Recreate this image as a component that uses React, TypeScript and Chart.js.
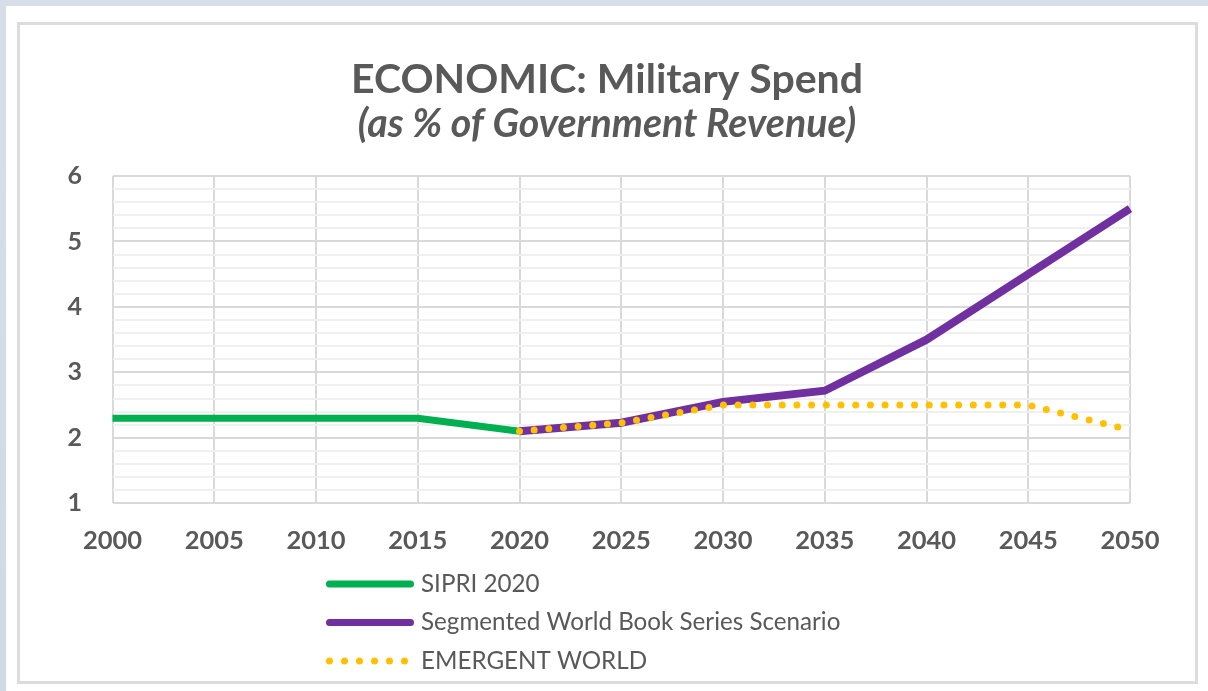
import React, { useEffect, useRef } from "react";
import { Chart, registerables } from "chart.js";

Chart.register(...registerables);

const years = ["2000", "2005", "2010", "2015", "2020", "2025", "2030", "2035", "2040", "2045", "2050"];
const sipri2020 = [2.3, 2.3, 2.3, 2.3, 2.1, null, null, null, null, null, null];
const segmentedWorld = [null, null, null, null, 2.1, 2.23, 2.55, 2.72, 3.5, 4.5, 5.5];
const emergentWorld = [null, null, null, null, 2.1, 2.23, 2.5, 2.5, 2.5, 2.5, 2.12];
const yMin = 1;
const yMax = 6;
const yStep = 0.2;

const TEXT = "#595959";
const FONT = "Lato, 'Open Sans', sans-serif";

const isMajor = (v: number) => Math.abs(v - Math.round(v)) < 1e-6;

const legendPlugin = {
  id: "stackedLegend",
  afterDraw(chart: any, _args: any, opts: any) {
    const ctx = chart.ctx as CanvasRenderingContext2D;
    ctx.save();
    chart.data.datasets.forEach((ds: any, i: number) => {
      const y = opts.top + i * opts.rowGap;
      ctx.beginPath();
      ctx.strokeStyle = ds.borderColor;
      ctx.lineWidth = opts.lineWidth;
      ctx.lineCap = "round";
      if (ds.borderDash && ds.borderDash.length) {
        ctx.setLineDash(opts.dotDash);
        ctx.moveTo(opts.left, y);
        ctx.lineTo(opts.left + opts.dotLength, y);
      } else {
        ctx.setLineDash([]);
        ctx.moveTo(opts.left, y);
        ctx.lineTo(opts.left + opts.lineLength, y);
      }
      ctx.stroke();
      ctx.setLineDash([]);
      ctx.fillStyle = opts.color;
      ctx.font = opts.font;
      ctx.textBaseline = "middle";
      ctx.textAlign = "left";
      ctx.fillText(ds.label, opts.textX, y);
    });
    ctx.restore();
  },
};

export default function App() {
  const ref = useRef<HTMLCanvasElement>(null);

  useEffect(() => {
    if (!ref.current) return;
    const chart = new Chart(ref.current, {
      type: "line",
      data: {
        labels: years,
        datasets: [
          {
            label: "SIPRI 2020",
            data: sipri2020,
            borderColor: "#00b050",
            backgroundColor: "#00b050",
            borderWidth: 7,
            pointRadius: 0,
            tension: 0,
            order: 3,
          },
          {
            label: "Segmented World Book Series Scenario",
            data: segmentedWorld,
            borderColor: "#7030a0",
            backgroundColor: "#7030a0",
            borderWidth: 8,
            pointRadius: 0,
            tension: 0,
            order: 2,
          },
          {
            label: "EMERGENT WORLD",
            data: emergentWorld,
            borderColor: "#ffc000",
            backgroundColor: "#ffc000",
            borderWidth: 7,
            borderDash: [0, 14.7],
            borderCapStyle: "round",
            pointRadius: 0,
            tension: 0,
            order: 1,
          },
        ],
      } as any,
      options: {
        responsive: false,
        animation: false,
        events: [],
        layout: {
          padding: { left: 84, right: 78, top: 0, bottom: 126.7 },
        },
        plugins: {
          legend: { display: false },
          tooltip: { enabled: false },
          title: {
            display: true,
            text: "ECONOMIC: Military Spend",
            color: TEXT,
            font: { family: FONT, size: 41, weight: "bold", lineHeight: 1 },
            padding: { top: 59.5, bottom: 0 },
          },
          subtitle: {
            display: true,
            text: "(as % of Government Revenue)",
            color: TEXT,
            font: { family: FONT, size: 39.3, weight: "bold", style: "italic", lineHeight: 1 },
            padding: { top: 4.5, bottom: 31.7 },
          },
          stackedLegend: {
            left: 329.5,
            top: 584,
            rowGap: 38.5,
            lineWidth: 7,
            lineLength: 81,
            dotLength: 76,
            dotDash: [0, 15],
            textX: 421,
            color: TEXT,
            font: `24.2px ${FONT}`,
          },
        } as any,
        scales: {
          x: {
            type: "category",
            offset: false,
            afterFit: (s: any) => {
              s.height = 61;
            },
            border: { display: false },
            grid: { color: "#d9d9d9", lineWidth: 2, drawTicks: false },
            ticks: {
              color: TEXT,
              padding: 22.4,
              autoSkip: false,
              maxRotation: 0,
              font: { family: FONT, size: 25.5, weight: "bold" },
            },
          },
          y: {
            type: "linear",
            min: yMin,
            max: yMax,
            afterFit: (s: any) => {
              s.width = 28.5;
            },
            border: { display: false },
            grid: {
              color: (c: any) => (isMajor(c.tick?.value ?? 0) ? "#d9d9d9" : "#f0f0f0"),
              lineWidth: 2,
              drawTicks: false,
            },
            ticks: {
              stepSize: yStep,
              autoSkip: false,
              mirror: true,
              crossAlign: "near",
              padding: -45,
              color: TEXT,
              font: { family: FONT, size: 25, weight: "bold" },
              callback: (v: any) => (isMajor(Number(v)) ? String(Math.round(Number(v))) : ""),
            },
          },
        },
      } as any,
      plugins: [legendPlugin as any],
    });
    return () => chart.destroy();
  }, []);

  return (
    <div
      style={{
        position: "fixed",
        left: 0,
        top: 0,
        width: 1208,
        height: 691,
        overflow: "hidden",
        background: "linear-gradient(180deg, #d6dfe9 0%, #cfdae6 100%)",
      }}
    >
      <div style={{ position: "absolute", left: 6, top: 6, right: 0, bottom: 0, background: "#ffffff" }} />
      <div
        style={{
          position: "absolute",
          left: 17,
          top: 22,
          width: 1181,
          height: 662,
          border: "3px solid #dcdcdc",
          boxSizing: "border-box",
        }}
      />
      <canvas
        ref={ref}
        width={1208}
        height={691}
        style={{ position: "absolute", left: 0, top: 0, width: 1208, height: 691 }}
      />
    </div>
  );
}
